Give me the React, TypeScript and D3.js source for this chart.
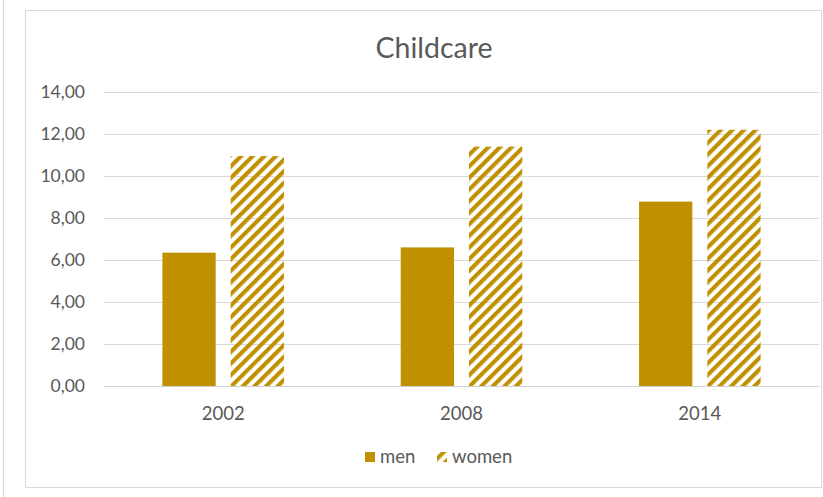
import React from "react";
import * as d3 from "d3";

const categories = ["2002", "2008", "2014"];
const seriesNames = ["men", "women"];
const menValues = [6.35, 6.6, 8.78];
const womenValues = [10.95, 11.4, 12.2];
const yTicks = [0, 2, 4, 6, 8, 10, 12, 14];
const title = "Childcare";

const W = 823;
const H = 497;
const GOLD = "#BF9000";
const FONT = "Lato, 'Open Sans', sans-serif";

export default function App() {
  const left = 104;
  const right = 819;
  const top = 92;
  const bottom = 386;

  const x = d3.scaleBand<string>().domain(categories).range([left, right]).paddingInner(0.49).paddingOuter(0.245);
  const xs = d3.scaleBand<string>().domain(seriesNames).range([0, x.bandwidth()]).paddingInner(0.22).paddingOuter(0);
  const y = d3.scaleLinear().domain([0, 14]).range([bottom, top]);
  const fmt = (v: number) => d3.format(".2f")(v).replace(".", ",");

  const data = categories.map((c, i) => ({ c, men: menValues[i], women: womenValues[i] }));

  return (
    <svg width={W} height={H} style={{ position: "fixed", left: 0, top: 0, background: "#fff" }}>
      <defs>
        <pattern id="hatch" patternUnits="userSpaceOnUse" width={8.2} height={8.2} patternTransform="rotate(45)">
          <rect x={0} y={0} width={4.1} height={8.2} fill={GOLD} />
        </pattern>
      </defs>
      <rect x={0} y={0} width={W} height={H} fill="#fff" />
      <line x1={3.5} x2={3.5} y1={0} y2={H} stroke="#d9d9d9" strokeWidth={1} />
      <rect x={25.5} y={10.5} width={796} height={477} fill="#fff" stroke="#d9d9d9" strokeWidth={1} />
      <text x={434} y={58} textAnchor="middle" fontFamily={FONT} fontSize={28.5} fill="#595959">{title}</text>
      {yTicks.map((t) => (
        <g key={t}>
          <line x1={left} x2={right} y1={Math.round(y(t)) + 0.5} y2={Math.round(y(t)) + 0.5} stroke={t === 0 ? "#d0d0d0" : "#d9d9d9"} strokeWidth={1} />
          <text x={85} y={y(t)} dy="0.36em" textAnchor="end" fontFamily={FONT} fontSize={17.5} fill="#595959">{fmt(t)}</text>
        </g>
      ))}
      {data.map((d) => (
        <g key={d.c} transform={`translate(${x(d.c)},0)`}>
          <rect x={xs("men")} y={y(d.men)} width={xs.bandwidth()} height={y(0) - y(d.men)} fill={GOLD} />
          <rect x={xs("women")} y={y(d.women)} width={xs.bandwidth()} height={y(0) - y(d.women)} fill="url(#hatch)" />
          <text x={x.bandwidth() / 2} y={420} textAnchor="middle" fontFamily={FONT} fontSize={18.5} fill="#595959">{d.c}</text>
        </g>
      ))}
      <g>
        <rect x={365} y={452} width={10} height={10} fill={GOLD} />
        <text x={380} y={463} fontFamily={FONT} fontSize={18.5} fill="#595959">men</text>
        <rect x={437} y={452} width={10} height={10} fill="url(#hatch)" />
        <text x={452} y={463} fontFamily={FONT} fontSize={18.5} fill="#595959">women</text>
      </g>
    </svg>
  );
}
